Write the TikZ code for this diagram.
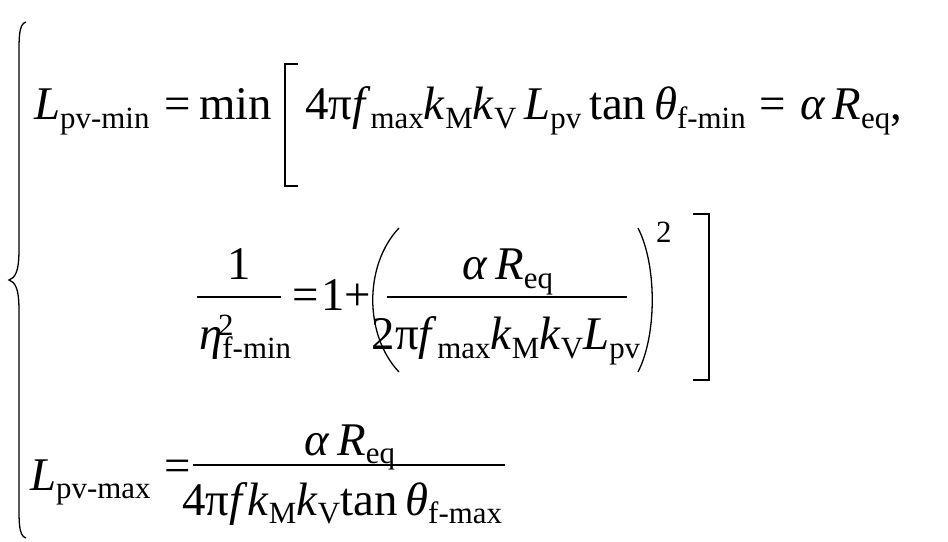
\documentclass[tikz,border=0pt]{standalone}
\usepackage{fontspec}
\setmainfont{Liberation Serif}
\newcommand\sbt[1]{\raisebox{-0.4ex}{\fontsize{31}{33}\selectfont #1}}
\begin{document}
\begin{tikzpicture}[x=1bp,y=-1bp,
    eqtext/.style={anchor=base west, inner sep=0pt, font=\fontsize{47}{52}\selectfont},
    eqmid/.style={anchor=base, inner sep=0pt, font=\fontsize{47}{52}\selectfont},
    supsc/.style={anchor=base west, inner sep=0pt, font=\fontsize{31}{33}\selectfont},
    fracbar/.style={line width=1.3pt},
    delim/.style={line width=1.3pt}]
\useasboundingbox (0,0) rectangle (948,542);
% brace
\draw[delim] (26,22) .. controls (18,24) and (19,40) .. (19,70) -- (19,250)
    .. controls (19,272) and (15,278) .. (9,280)
    .. controls (15,282) and (19,288) .. (19,310) -- (19,490)
    .. controls (19,520) and (18,536) .. (26,538);
% first line
\node[eqtext] (lmin) at (34,120) {\textit{L}\sbt{pv-min}};
\node[eqtext] (eqa) at (164,120) {=};
\node[eqtext] (minop) at (199,120) {min};
\draw[delim] (298,64) -- (285,64) -- (285,186) -- (298,186);
\node[eqtext] (terma) at (305,120) {4π\textit{f}\sbt{max}\textit{k}\sbt{M}\textit{k}\sbt{V}\,\textit{L}\sbt{pv}\,tan\,\textit{θ}\sbt{f-min}\hspace{0.3em}=\hspace{0.3em}\textit{α\,R}\sbt{eq},};
% second line
\draw[fracbar] (197,297) coordinate (fa) -- (281,297) coordinate (fb);
\node[eqmid] (one) at (239,280) {1};
\node[eqtext] (eta) at (199,350) {\textit{η}\sbt{f-min}};
\node[supsc] (etasq) at (218,336) {2};
\node[eqtext] (eqb) at (292,311) {=};
\node[eqtext] (oneb) at (321,311) {1};
\node[eqtext] (plus) at (344,311) {+};
\draw[delim] (399,228) .. controls (364,265) and (364,335) .. (399,372);
\draw[delim] (638,228) .. controls (657,265) and (657,335) .. (638,372);
\draw[fracbar] (387,297) coordinate (fc) -- (627,297) coordinate (fd);
\node[eqmid] (numb) at (508,280) {\textit{α\,R}\sbt{eq}};
\node[eqmid] (denb) at (506,350) {2π\textit{f}\sbt{max}\textit{k}\sbt{M}\textit{k}\sbt{V}\textit{L}\sbt{pv}};
\node[supsc] (sq) at (656,243) {2};
\draw[delim] (693,214) -- (709,214) -- (709,380) -- (693,380);
% third line
\node[eqtext] (lmax) at (30,490) {\textit{L}\sbt{pv-max}};
\node[eqtext] (eqc) at (164,481) {=};
\draw[fracbar] (193,465) coordinate (fe) -- (505,465) coordinate (ff);
\node[eqmid] (numc) at (350,455) {\textit{α\,R}\sbt{eq}};
\node[eqmid] (denc) at (342,515) {4π\textit{f}\textit{k}\sbt{M}\textit{k}\sbt{V}tan\,\textit{θ}\sbt{f-max}};
\end{tikzpicture}
\end{document}
